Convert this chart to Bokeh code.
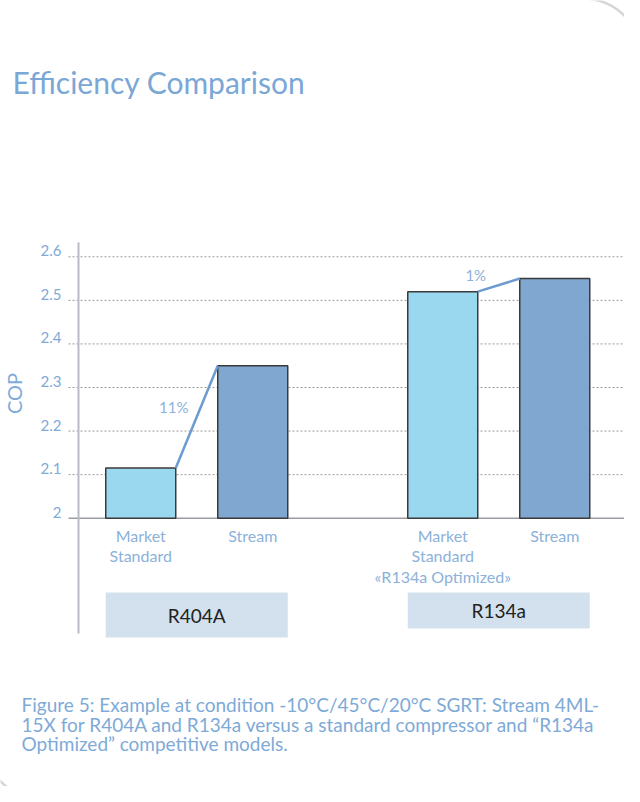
from math import pi
from bokeh.plotting import figure
from bokeh.models import Range1d, LinearAxis, FixedTicker
from bokeh.core.properties import value
from bokeh.embed import file_html
from bokeh.resources import INLINE

# ---------------- data ----------------
groups = ["R404A", "R134a"]
bar_labels = ["Market\nStandard", "Stream",
              "Market\nStandard\n«R134a Optimized»", "Stream"]
bar_group = [0, 0, 1, 1]
bar_kind = [0, 1, 0, 1]          # 0 = market standard, 1 = Stream
cop = [2.115, 2.35, 2.52, 2.55]
gain_labels = ["11%", "1%"]
y_ticks = [2.0, 2.1, 2.2, 2.3, 2.4, 2.5, 2.6]
y_tick_labels = ["2", "2.1", "2.2", "2.3", "2.4", "2.5", "2.6"]
title_text = "Efficiency Comparison"
caption_lines = [
    "Figure 5: Example at condition -10°C/45°C/20°C SGRT: Stream 4ML-",
    "15X for R404A and R134a versus a standard compressor and \u201cR134a",
    "Optimized\u201d competitive models.",
]

# ---------------- layout ----------------
W, H = 624, 786
OFF = 8                      # page margin
Y0 = 525.7                   # screen row of COP 2.0
PPU = 435.7                  # pixels per COP unit
BASE = 2.0


def py(row):
    return BASE + (Y0 - row) / PPU


GROUP_C0, GROUP_STEP, INNER, BAR_W = 204.25, 302.0, 112.0, 70.0
bar_x = [GROUP_C0 + g * GROUP_STEP + (k - 0.5) * INNER for g, k in zip(bar_group, bar_kind)]
bar_fill = ["#9ad8f0" if k == 0 else "#80a7cf" for k in bar_kind]

BLUE_TXT = "#80aad8"
FONT = "Lato"

p = figure(width=W, height=H, output_backend="svg", toolbar_location=None,
           x_range=Range1d(OFF, OFF + W), y_range=Range1d(py(OFF + H), py(OFF)),
           x_axis_location=None, y_axis_location=None, min_border=0,
           background_fill_color="white", border_fill_color="white",
           outline_line_color=None)
p.xgrid.visible = False
p.ygrid.visible = False

# grid lines
LEFT, RIGHT = 76, 633
p.segment(x0=LEFT, x1=RIGHT, y0=y_ticks[1:], y1=y_ticks[1:],
          line_color="#9a9a9a", line_width=1, line_dash="2 2")
p.segment(x0=[LEFT], x1=[RIGHT], y0=[y_ticks[0]], y1=[y_ticks[0]],
          line_color="#9c9ca6", line_width=1.5)

# bars
p.vbar(x=bar_x, top=cop, bottom=BASE, width=BAR_W, fill_color=bar_fill,
       line_color="#3a3a3a", line_width=1.5)

# connectors + gain labels
cx0, cy0, cx1, cy1, lx, ly = [], [], [], [], [], []
for g in range(len(groups)):
    i0, i1 = 2 * g, 2 * g + 1
    cx0.append(bar_x[i0] + BAR_W / 2)
    cy0.append(cop[i0])
    cx1.append(bar_x[i1] - BAR_W / 2)
    cy1.append(cop[i1])
    lx.append((cx0[-1] + cx1[-1]) / 2 - 23)
    ly.append((cy0[-1] + cy1[-1]) / 2 + 10 / PPU)
p.segment(x0=cx0, y0=cy0, x1=cx1, y1=cy1, line_color="#6c9bd0", line_width=2.5)
p.text(x=lx, y=ly, text=gain_labels, text_align="center", text_baseline="middle",
       text_font=value(FONT), text_font_size="15px", text_color="#8cb1da")

# vertical axis line
p.segment(x0=[86], x1=[86], y0=[py(250)], y1=[py(641)], line_color="#b8bcc6", line_width=2)

# category labels
p.text(x=bar_x, y=[py(533)] * len(bar_x), text=bar_labels, text_align="center",
       text_baseline="top", text_line_height=1.08, text_font=value(FONT),
       text_font_size="16px", text_color="#8cb1da")

# group boxes
box_left = [bar_x[2 * g] - BAR_W / 2 for g in range(len(groups))]
box_right = [bar_x[2 * g + 1] + BAR_W / 2 for g in range(len(groups))]
box_top = [py(600)] * len(groups)
box_bottom = [py(645), py(636)]
p.quad(left=box_left, right=box_right, top=box_top, bottom=box_bottom,
       fill_color="#d3e1ee", line_color=None)
p.text(x=[(a + b) / 2 for a, b in zip(box_left, box_right)],
       y=[(t + b) / 2 for t, b in zip(box_top, box_bottom)], text=groups,
       text_align="center", text_baseline="middle", text_font=value(FONT),
       text_font_size="19px", text_color="#222222")

# y axis (labels sit slightly above their grid lines)
d = 6 / PPU
p.extra_y_ranges = {"ticks": Range1d(py(OFF + H) - d, py(OFF) - d)}
ax = LinearAxis(y_range_name="ticks", fixed_location=LEFT,
                ticker=FixedTicker(ticks=y_ticks),
                major_label_overrides=dict(zip(y_ticks, y_tick_labels)),
                axis_line_color=None, major_tick_line_color=None,
                minor_tick_line_color=None, major_tick_in=0, major_tick_out=0,
                major_label_standoff=7, major_label_text_font=FONT,
                major_label_text_font_size="15px", major_label_text_color=BLUE_TXT,
                axis_label="COP", axis_label_text_font=FONT,
                axis_label_text_font_size="20px", axis_label_text_font_style="normal",
                axis_label_text_color=BLUE_TXT, axis_label_standoff=12)
p.add_layout(ax, "left")

# title and caption
p.text(x=[20], y=[py(89)], text=[title_text], text_baseline="alphabetic",
       text_font=value(FONT), text_font_size="30px", text_color="#7aa7d6")
p.text(x=[29] * 3, y=[py(712), py(731.5), py(751)], text=caption_lines,
       text_baseline="alphabetic", text_font=value(FONT), text_font_size="19px",
       text_color="#7eaad7")

# rounded frame corners
p.arc(x=[590], y=[py(66)], radius=60, start_angle=0, end_angle=pi / 2,
      line_color="#d6d6d6", line_width=2.5)
p.arc(x=[45], y=[py(755)], radius=50, start_angle=pi, end_angle=1.5 * pi,
      line_color="#d6d6d6", line_width=2.5)

open("out.html", "w").write(file_html(p, INLINE))
